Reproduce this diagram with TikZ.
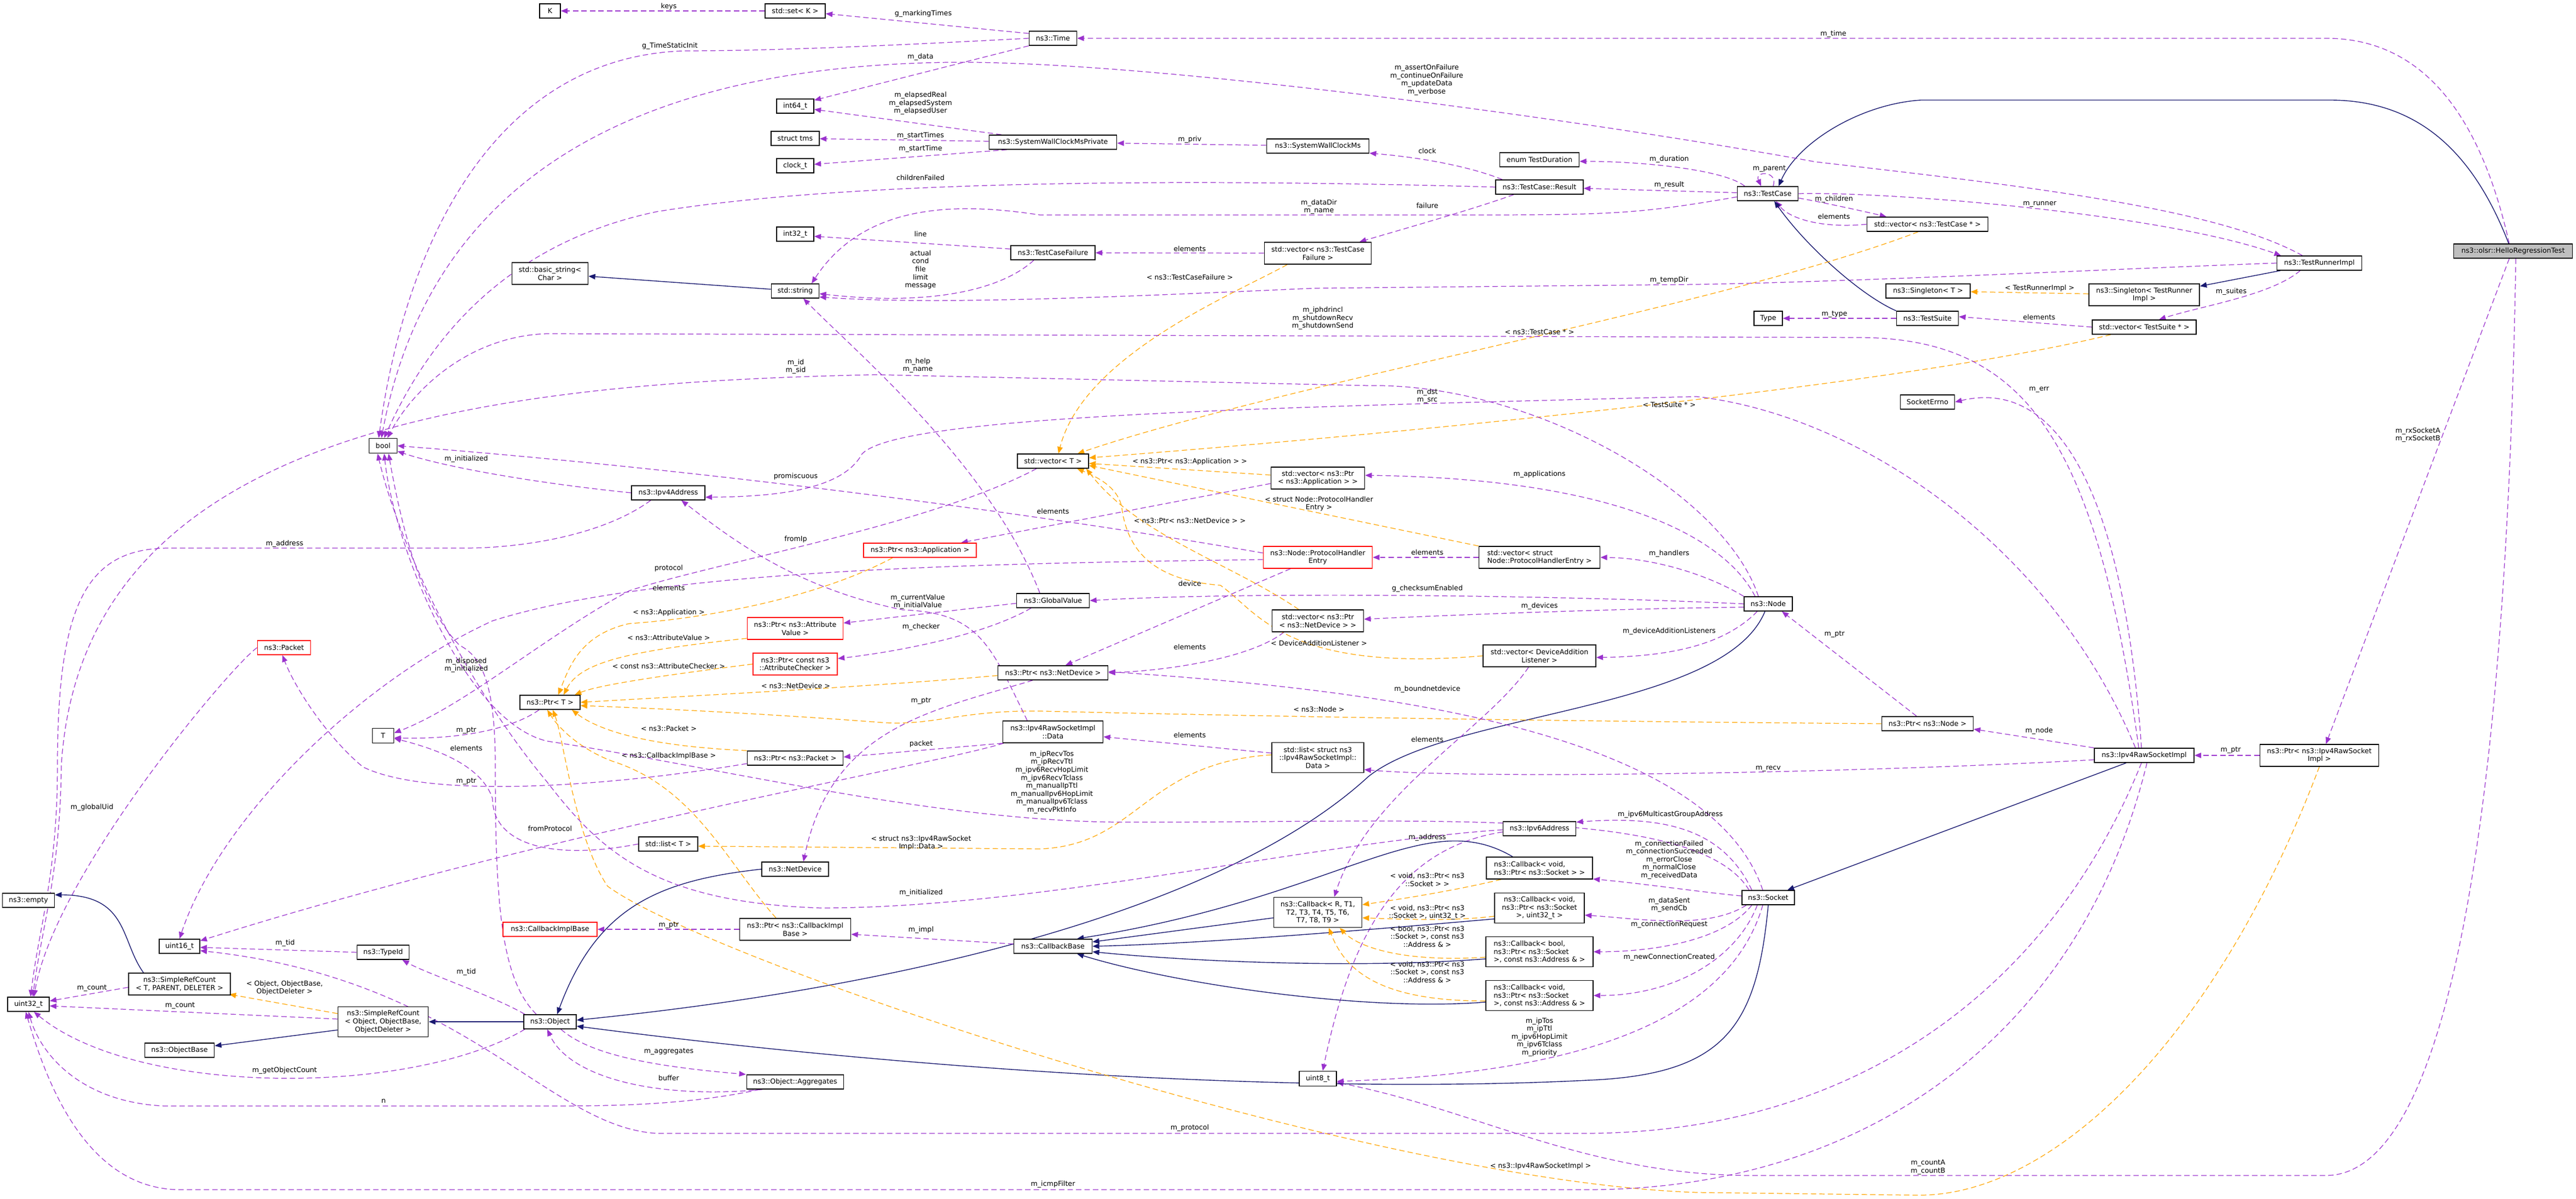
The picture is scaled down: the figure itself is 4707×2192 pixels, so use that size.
\documentclass[tikz,border=0pt]{standalone}
\usepackage{fontspec}
\setmainfont{DejaVu Sans}
\usetikzlibrary{arrows.meta,backgrounds}
\definecolor{usecol}{HTML}{9A32CD}
\definecolor{inhcol}{HTML}{191970}
\definecolor{tmplcol}{HTML}{FFA500}
\definecolor{rootgray}{HTML}{BFBFBF}
\tikzset{
  every node/.style={font=\fontsize{3.6}{4.15}\selectfont},
  cls/.style={draw=black, line width=0.45pt, fill=white, inner sep=1pt, minimum height=0.26cm, align=center},
  trunc/.style={cls, draw=red},
  bw/.style={minimum width=#1cm},
  h2/.style={minimum height=0.40cm},
  h3/.style={minimum height=0.55cm},
  lbl/.style={inner sep=0pt, align=center},
  mem/.style={draw=usecol, line width=0.35pt, dash pattern=on 2.8pt off 1.6pt, -{Triangle[length=3.5pt,width=2.8pt]}},
  tmpl/.style={draw=tmplcol, line width=0.35pt, dash pattern=on 2.8pt off 1.6pt, -{Triangle[length=3.5pt,width=2.8pt]}},
  inh/.style={draw=inhcol, line width=0.4pt, -{Triangle[length=3.5pt,width=2.8pt]}}
}
\begin{document}
\begin{tikzpicture}[x=0.01cm, y=-0.01cm]
\useasboundingbox (0,0) rectangle (4707,2192);

\node[cls, bw=0.38] (K) at (1005,20) {K};
\node[cls, bw=1.10] (setK) at (1453,20) {std::set< K >};
\node[cls, bw=0.87] (time) at (1924,70) {ns3::Time};
\node[cls, bw=0.68] (int64) at (1453,194) {int64\_t};
\node[cls, bw=0.88] (tms) at (1453,253) {struct tms};
\node[cls, bw=0.68] (clockt) at (1453,303) {clock\_t};
\node[cls, bw=2.33] (swcmp) at (1924,260) {ns3::SystemWallClockMsPrivate};
\node[cls, bw=1.87] (swcm) at (2408,267) {ns3::SystemWallClockMs};
\node[cls, bw=1.45] (duration) at (2813,292) {enum TestDuration};
\node[cls, bw=1.60] (result) at (2813,342) {ns3::TestCase::Result};
\node[cls, bw=1.11] (testcase) at (3230,354) {ns3::TestCase};
\node[cls, bw=2.21] (vecTC) at (3522,410) {std::vector< ns3::TestCase * >};
\node[cls, bw=0.68] (int32) at (1453,428) {int32\_t};
\node[cls, bw=1.54] (tcf) at (1924,462) {ns3::TestCaseFailure};
\node[cls, bw=1.95, h2] (vecTCF) at (2408,463) {std::vector< ns3::TestCase\\Failure >};
\node[cls, bw=1.39, h2] (basicstr) at (1005,500) {std::basic\_string<\\Char >};
\node[cls, bw=0.87] (string) at (1453,532) {std::string};
\node[cls, bw=1.54] (singT) at (3523,532) {ns3::Singleton< T >};
\node[cls, bw=1.55] (runner) at (4238,481) {ns3::TestRunnerImpl};
\node[cls, bw=2.02, h2] (singR) at (3918,539) {ns3::Singleton< TestRunner\\Impl >};
\node[cls, bw=2.17, fill=rootgray] (root) at (4592,459) {ns3::olsr::HelloRegressionTest};
\node[cls, bw=0.52] (type) at (3231,582) {Type};
\node[cls, bw=1.13] (suite) at (3522,582) {ns3::TestSuite};
\node[cls, bw=1.90] (vecTS) at (3918,598) {std::vector< TestSuite * >};
\node[cls, bw=0.99] (errno) at (3522,735) {SocketErrno};
\node[cls, bw=0.51, minimum height=0.27cm] (bool) at (700,815) {bool};
\node[cls, bw=1.34] (ipv4) at (1221,901) {ns3::Ipv4Address};
\node[cls, bw=1.30] (vecT) at (1924,843) {std::vector< T >};
\node[cls, bw=1.71, h2] (vecApp) at (2408,874) {std::vector< ns3::Ptr\\< ns3::Application > >};
\node[trunc, bw=2.06] (ptrApp) at (1681,1006) {ns3::Ptr< ns3::Application >};
\node[trunc, bw=1.99, h2] (phe) at (2408,1019) {ns3::Node::ProtocolHandler\\Entry};
\node[cls, bw=2.21, h2, align=left] (vecPHE) at (2813,1019) {std::vector< struct\\Node::ProtocolHandlerEntry >};
\node[cls, bw=1.33] (gv) at (1924,1098) {ns3::GlobalValue};
\node[cls, bw=1.67, h2] (vecND) at (2408,1135) {std::vector< ns3::Ptr\\< ns3::NetDevice > >};
\node[cls, bw=2.06, h2] (vecDAL) at (2813,1199) {std::vector< DeviceAddition\\Listener >};
\node[cls, bw=0.88] (nsnode) at (3231,1104) {ns3::Node};
\node[cls, bw=1.67] (ptrNode) at (3522,1323) {ns3::Ptr< ns3::Node >};
\node[trunc, bw=1.75, h2] (ptrAV) at (1453,1149) {ns3::Ptr< ns3::Attribute\\Value >};
\node[trunc, bw=1.54, h2] (ptrAC) at (1453,1214) {ns3::Ptr< const ns3\\::AttributeChecker >};
\node[trunc, bw=0.97] (packet) at (519,1184) {ns3::Packet};
\node[cls, bw=1.10] (ptrT) at (1005,1284) {ns3::Ptr< T >};
\node[cls, bw=0.39, minimum height=0.27cm] (T) at (700,1345) {T};
\node[cls, bw=2.01] (ptrND) at (1924,1230) {ns3::Ptr< ns3::NetDevice >};
\node[cls, bw=1.75] (ptrPkt) at (1453,1386) {ns3::Ptr< ns3::Packet >};
\node[cls, bw=1.83, h2] (data) at (1924,1338) {ns3::Ipv4RawSocketImpl\\::Data};
\node[cls, bw=1.68, h3] (listData) at (2408,1385) {std::list< struct ns3\\::Ipv4RawSocketImpl::\\Data >};
\node[cls, bw=1.82] (raw) at (3918,1381) {ns3::Ipv4RawSocketImpl};
\node[cls, bw=2.17, h2] (ptrRaw) at (4238,1381) {ns3::Ptr< ns3::Ipv4RawSocket\\Impl >};
\node[cls, bw=1.08] (listT) at (1221,1543) {std::list< T >};
\node[cls, bw=1.22] (netdev) at (1453,1589) {ns3::NetDevice};
\node[cls, bw=1.33] (ipv6) at (2813,1515) {ns3::Ipv6Address};
\node[cls, bw=1.94, h2, align=left] (cbSock) at (2813,1587) {ns3::Callback< void,\\ns3::Ptr< ns3::Socket > >};
\node[cls, bw=1.61, h3] (cbRT) at (2408,1668) {ns3::Callback< R, T1,\\T2, T3, T4, T5, T6,\\T7, T8, T9 >};
\node[cls, bw=1.64, h3] (cbU32) at (2813,1660) {ns3::Callback< void,\\ns3::Ptr< ns3::Socket\\>, uint32\_t >};
\node[cls, bw=1.96, h3, align=left] (cbBool) at (2813,1740) {ns3::Callback< bool,\\ns3::Ptr< ns3::Socket\\>, const ns3::Address \& >};
\node[cls, bw=1.96, h3, align=left] (cbAddr) at (2813,1820) {ns3::Callback< void,\\ns3::Ptr< ns3::Socket\\>, const ns3::Address \& >};
\node[cls, bw=0.96] (socket) at (3231,1641) {ns3::Socket};
\node[cls, bw=0.95] (empty) at (52,1646) {ns3::empty};
\node[cls, bw=0.76] (uint32) at (52,1836) {uint32\_t};
\node[cls, bw=0.74] (uint16) at (328,1730) {uint16\_t};
\node[cls, bw=1.86, h2] (src) at (328,1799) {ns3::SimpleRefCount\\< T, PARENT, DELETER >};
\node[cls, bw=1.27] (objbase) at (328,1920) {ns3::ObjectBase};
\node[cls, bw=0.95] (typeid) at (700,1741) {ns3::TypeId};
\node[cls, bw=1.65, h3] (srcObj) at (700,1868) {ns3::SimpleRefCount\\< Object, ObjectBase,\\ObjectDeleter >};
\node[cls, bw=0.96] (object) at (1005,1868) {ns3::Object};
\node[trunc, bw=1.72] (cbib) at (1005,1699) {ns3::CallbackImplBase};
\node[cls, bw=2.03, h2] (ptrCB) at (1453,1699) {ns3::Ptr< ns3::CallbackImpl\\Base >};
\node[cls, bw=1.77] (aggr) at (1453,1978) {ns3::Object::Aggregates};
\node[cls, bw=1.43] (cbbase) at (1924,1730) {ns3::CallbackBase};
\node[cls, bw=0.68, minimum height=0.27cm] (uint8) at (2408,1972) {uint8\_t};

\begin{scope}[on background layer]
\draw[mem] ([xshift=-0.07cm]root.north) .. controls (4530,200) and (4420,70) .. (4250,70) -- (time);
\draw[inh] ([xshift=-0.08cm]root.north) .. controls (4520,280) and (4420,183) .. (4257,183) -- (3510,183) .. controls (3400,190) and (3285,260) .. ([xshift=0.2cm]testcase.north);
\draw[mem] ([xshift=-0.07cm]root.south) -- ([xshift=0.12cm]ptrRaw.north);
\draw[mem] ([xshift=0.05cm]root.south) .. controls (4585,1200) and (4520,2149) .. (4250,2149) -- (3200,2149) .. controls (2900,2149) and (2700,2030) .. (uint8);
\draw[mem] ([yshift=-0.05cm]time.north west) -- ([yshift=-0.05cm]setK.east);
\draw[mem] (setK) -- (K);
\draw[mem] (time.west) .. controls (1600,85) and (1400,93) .. (1250,93) .. controls (900,105) and (740,450) .. ([xshift=-0.08cm]bool.north);
\draw[mem] (time.south west) -- ([yshift=-0.03cm]int64.north east);
\draw[mem] ([xshift=-0.31cm]runner.north) .. controls (4050,380) and (3700,340) .. (3318,296) .. controls (2900,220) and (2100,110) .. (1736,114) .. controls (1200,120) and (790,300) .. ([xshift=-0.03cm]bool.north);
\draw[mem] ([xshift=-0.94cm]swcmp.north) -- ([yshift=-0.06cm]int64.east);
\draw[mem] (swcmp) -- (tms);
\draw[mem] ([xshift=-0.84cm]swcmp.south) -- (clockt);
\draw[mem] (swcm) -- (swcmp);
\draw[mem] ([xshift=-0.68cm]result.north) .. controls (2700,310) and (2620,290) .. ([yshift=-0.13cm]swcm.east);
\draw[mem] (result.west) .. controls (2300,330) and (1600,322) .. (1200,387) .. controls (900,450) and (770,650) .. ([xshift=0.02cm]bool.north);
\draw[mem] ([xshift=-0.47cm]result.south) .. controls (2700,380) and (2560,420) .. ([xshift=0.76cm]vecTCF.north);
\draw[mem] ([xshift=-0.42cm]testcase.north) .. controls (3150,310) and (3000,295) .. ([yshift=-0.03cm]duration.east);
\draw[mem] (testcase) -- (result);
\draw[mem] ([xshift=0.1cm]testcase.north) .. controls (3250,312) and (3205,312) .. ([xshift=-0.12cm]testcase.north);
\draw[mem] ([yshift=-0.08cm]testcase.east) .. controls (3330,370) and (3400,385) .. ([xshift=-0.75cm]vecTC.north);
\draw[mem] (vecTC.west) .. controls (3330,418) and (3270,400) .. ([xshift=0.15cm]testcase.south);
\draw[mem] ([yshift=-0.06cm]testcase.west) .. controls (3000,390) and (2950,393) .. (2700,393) -- (1900,393) .. controls (1750,370) and (1580,370) .. ([xshift=0.3cm]string.north);
\draw[mem] (testcase.east) .. controls (3450,350) and (3950,390) .. ([xshift=-0.7cm]runner.north);
\draw[mem] (runner.west) .. controls (3900,490) and (3400,515) .. (3100,520) -- (2400,527) .. controls (2000,545) and (1700,557) .. ([yshift=-0.11cm]string.east);
\draw[mem] ([yshift=-0.07cm]tcf.north west) -- ([yshift=-0.04cm]int32.east);
\draw[mem] ([xshift=-0.35cm]tcf.south) .. controls (1830,530) and (1700,560) .. ([yshift=-0.05cm]string.east);
\draw[mem] (vecTCF) -- (tcf);
\draw[tmpl] ([xshift=-0.56cm]vecTCF.south) .. controls (2250,540) and (1980,650) .. ([xshift=0.1cm]vecT.north);
\draw[inh] (string) -- (basicstr);
\draw[inh] ([xshift=0.07cm]runner.south west) -- ([yshift=-0.05cm]singR.north east);
\draw[tmpl] (singR) -- (singT);
\draw[mem] ([xshift=-0.35cm]runner.south) .. controls (4150,540) and (4020,560) .. ([xshift=0.27cm]vecTS.north);
\draw[mem] (suite) -- (type);
\draw[mem] (vecTS.west) -- ([yshift=0.03cm]suite.east);
\draw[inh] (suite.north west) .. controls (3400,540) and (3300,450) .. ([xshift=0.12cm]testcase.south);
\draw[tmpl] ([xshift=-0.61cm]vecTS.south) .. controls (3500,700) and (2600,790) .. ([yshift=0.06cm]vecT.east);
\draw[tmpl] ([xshift=-0.17cm]vecTC.south) .. controls (3150,560) and (2350,700) .. ([xshift=0.45cm]vecT.north);
\draw[mem] ([xshift=-0.05cm]raw.north) .. controls (3880,900) and (3760,690) .. (errno.east);
\draw[mem] ([xshift=-0.1cm]raw.north) .. controls (3830,800) and (3700,620) .. (3400,617) -- (1000,610) .. controls (850,615) and (750,720) .. ([xshift=0.08cm]bool.north);
\draw[mem] ([xshift=-0.16cm]raw.north) .. controls (3750,1000) and (3400,760) .. (3100,725) .. controls (2300,745) and (1640,760) .. (1575,830) .. controls (1540,895) and (1420,908) .. ([yshift=-0.08cm]ipv4.east);
\draw[mem] ([xshift=-0.18cm]nsnode.north) .. controls (3150,900) and (2800,700) .. (2500,705) -- (1600,685) .. controls (900,700) and (150,780) .. (112,1400) .. controls (110,1600) and (75,1700) .. ([xshift=0.08cm]uint32.north);
\draw[mem] ([xshift=-0.24cm]nsnode.north) .. controls (3150,980) and (2950,875) .. ([yshift=0.05cm]vecApp.east);
\draw[mem] (nsnode.north west) .. controls (3120,1050) and (3020,1020) .. (vecPHE.east);
\draw[mem] (nsnode.west) .. controls (2900,1090) and (2300,1080) .. (gv.east);
\draw[mem] ([yshift=-0.06cm]nsnode.west) .. controls (3000,1112) and (2700,1122) .. ([yshift=0.03cm]vecND.east);
\draw[mem] ([xshift=-0.2cm]nsnode.south) .. controls (3150,1180) and (3050,1200) .. ([yshift=-0.03cm]vecDAL.east);
\draw[inh] ([xshift=-0.06cm]nsnode.south) .. controls (3150,1300) and (2650,1300) .. (2500,1420) .. controls (2250,1650) and (1700,1800) .. ([yshift=0.03cm]object.east);
\draw[inh] (socket.south) .. controls (3210,1880) and (3150,1965) .. (2900,1975) .. controls (2400,2000) and (1700,1960) .. ([yshift=-0.08cm]object.east);
\draw[inh] ([xshift=-0.33cm]raw.south) -- ([xshift=0.35cm]socket.north);
\draw[mem] (raw.north west) -- ([yshift=-0.1cm]ptrNode.east);
\draw[mem] (ptrRaw) -- (raw);
\draw[mem] ([xshift=-0.2cm]ptrNode.north) -- ([xshift=0.25cm]nsnode.south);
\draw[tmpl] (ptrNode.west) .. controls (3000,1320) and (2400,1312) .. (1900,1300) .. controls (1750,1298) and (1700,1330) .. (1600,1320) .. controls (1400,1305) and (1200,1295) .. ([yshift=-0.06cm]ptrT.east);
\draw[tmpl] (ptrRaw.south) .. controls (4050,1900) and (3750,2190) .. (3500,2185) -- (3100,2180) .. controls (2500,2160) and (1300,1760) .. (1110,1620) .. controls (1050,1530) and (1030,1350) .. ([xshift=0.05cm]ptrT.south);
\draw[mem] ([yshift=-0.08cm]raw.west) .. controls (3400,1413) and (2700,1425) .. ([yshift=-0.22cm]listData.east);
\draw[mem] (listData) -- (data);
\draw[tmpl] ([yshift=0.05cm]listData.west) .. controls (2090,1395) and (2080,1545) .. (1900,1552) -- ([yshift=-0.04cm]listT.east);
\draw[mem] (data.south west) -- ([yshift=0.02cm]ptrPkt.east);
\draw[mem] ([xshift=-0.47cm]data.north) .. controls (1810,1180) and (1790,1120) .. (1650,1115) .. controls (1450,1075) and (1330,980) .. ([xshift=0.24cm]ipv4.south);
\draw[mem] ([xshift=-0.9cm]data.south) .. controls (1700,1400) and (1000,1520) .. ([yshift=0.1cm]uint16.east);
\draw[mem] ([xshift=-0.24cm]gv.north) .. controls (1810,850) and (1560,640) .. ([xshift=0.15cm]string.south);
\draw[mem] ([yshift=-0.05cm]gv.west) -- ([yshift=0.1cm]ptrAV.east);
\draw[mem] ([xshift=-0.4cm]gv.south) .. controls (1800,1160) and (1650,1190) .. ([yshift=0.1cm]ptrAC.east);
\draw[mem] ([yshift=-0.1cm]vecApp.west) -- ([xshift=0.75cm]ptrApp.north);
\draw[tmpl] (vecApp) -- (vecT);
\draw[mem] ([xshift=-0.5cm]phe.south) -- ([xshift=0.23cm]ptrND.north);
\draw[mem] (vecPHE) -- (phe);
\draw[tmpl] (vecPHE.north west) -- ([yshift=-0.08cm]vecT.east);
\draw[mem] ([yshift=0.08cm]phe.west) .. controls (1900,940) and (1300,860) .. (bool.east);
\draw[mem] ([yshift=-0.04cm]phe.west) .. controls (1800,1030) and (1200,1040) .. (900,1135) .. controls (650,1250) and (400,1500) .. (uint16.north);
\draw[tmpl] ([xshift=-0.35cm]vecND.north) .. controls (2250,1030) and (2080,980) .. ([xshift=-0.05cm]vecT.south east);
\draw[mem] ([xshift=-0.62cm]vecND.south) .. controls (2290,1200) and (2150,1225) .. (ptrND.east);
\draw[tmpl] (vecDAL.west) .. controls (2350,1230) and (2300,1120) .. (2230,1070) .. controls (2100,1060) and (2060,1000) .. (2050,930) .. controls (2045,890) and (2000,870) .. ([xshift=0.44cm]vecT.south);
\draw[mem] ([xshift=-0.2cm]vecDAL.south) .. controls (2720,1330) and (2500,1450) .. ([xshift=0.3cm]cbRT.north);
\draw[mem] ([xshift=-0.32cm]ipv4.south) .. controls (1100,980) and (950,1002) .. (850,1002) -- (310,1002) .. controls (160,1002) and (105,1100) .. (105,1400) .. controls (105,1600) and (70,1700) .. ([xshift=0.04cm]uint32.north);
\draw[mem] (ipv4.west) .. controls (950,880) and (800,850) .. ([yshift=-0.1cm]bool.east);
\draw[tmpl] ([xshift=-0.5cm]ptrApp.south) .. controls (1500,1090) and (1300,1130) .. (1150,1140) .. controls (1060,1160) and (1040,1220) .. ([xshift=0.15cm]ptrT.north);
\draw[tmpl] ([yshift=-0.18cm]ptrAV.west) .. controls (1150,1190) and (1060,1210) .. ([xshift=0.25cm]ptrT.north);
\draw[tmpl] (ptrAC.west) .. controls (1250,1230) and (1100,1250) .. ([xshift=0.45cm]ptrT.north);
\draw[tmpl] ([yshift=-0.05cm]ptrND.west) .. controls (1600,1255) and (1300,1270) .. (ptrT.east);
\draw[tmpl] (ptrPkt.north west) .. controls (1200,1365) and (1100,1340) .. ([xshift=0.4cm]ptrT.south);
\draw[tmpl] ([xshift=-0.35cm]ptrCB.north) .. controls (1330,1580) and (1270,1440) .. (1120,1392) .. controls (1060,1370) and (1020,1330) .. ([xshift=-0.05cm]ptrT.south);
\draw[mem] ([xshift=-0.2cm]ptrT.south) .. controls (940,1330) and (850,1352) .. ([yshift=-0.04cm]T.east);
\draw[mem] ([xshift=-0.3cm]vecT.south) .. controls (1700,960) and (1300,1030) .. (1150,1080) .. controls (1000,1160) and (850,1290) .. ([yshift=0.05cm]T.east);
\draw[mem] (listT.west) .. controls (1000,1575) and (900,1540) .. (900,1460) .. controls (880,1400) and (800,1370) .. ([yshift=-0.05cm]T.east);
\draw[mem] ([yshift=-0.1cm]ptrPkt.west) .. controls (1100,1440) and (780,1460) .. (663,1402) .. controls (600,1350) and (540,1260) .. ([xshift=-0.03cm]packet.south);
\draw[mem] (packet.west) .. controls (420,1220) and (100,1600) .. ([xshift=0.1cm]uint32.north);
\draw[mem] (typeid.west) -- ([yshift=-0.02cm]uint16.east);
\draw[mem] ([xshift=-0.46cm]object.north) .. controls (900,1820) and (780,1780) .. ([xshift=0.35cm]typeid.south);
\draw[mem] ([yshift=0.05cm]srcObj.west) -- ([yshift=-0.03cm]uint32.east);
\draw[mem] ([yshift=-0.06cm]src.west) -- ([yshift=0.06cm]uint32.east);
\draw[mem] ([xshift=-0.46cm]object.south) .. controls (750,2005) and (250,2005) .. ([xshift=0.1cm]uint32.south);
\draw[mem] ([xshift=-0.65cm]aggr.south) .. controls (1250,2022) and (1100,2022) .. (1000,2022) -- (300,2022) .. controls (150,2015) and (75,1930) .. (uint32.south);
\draw[mem] ([xshift=0.2cm]object.south) .. controls (1080,1930) and (1200,1950) .. ([xshift=-0.9cm]aggr.north);
\draw[mem] ([xshift=-0.6cm]aggr.south) .. controls (1200,2010) and (1040,1970) .. ([xshift=-0.05cm]object.south);
\draw[mem] (ptrCB) -- (cbib);
\draw[mem] (cbbase) -- ([yshift=-0.09cm]ptrCB.east);
\draw[mem] ([xshift=-0.37cm]ptrND.south) .. controls (1700,1300) and (1520,1330) .. ([xshift=0.15cm]netdev.north);
\draw[inh] (netdev.west) .. controls (1200,1610) and (1090,1660) .. ([xshift=0.13cm]object.north);
\draw[mem] ([xshift=-0.25cm]object.north) .. controls (915,1790) and (905,1650) .. (905,1400) .. controls (905,1250) and (880,1200) .. (840,1180) .. controls (780,1120) and (740,1000) .. ([xshift=0.1cm]bool.south);
\draw[mem] ([yshift=-0.02cm]ipv6.west) .. controls (2400,1540) and (1900,1660) .. (1500,1660) .. controls (1200,1650) and (1100,1560) .. (1000,1430) .. controls (850,1250) and (730,1000) .. ([xshift=-0.1cm]bool.south);
\draw[mem] ([xshift=-0.35cm]socket.north) .. controls (3100,1470) and (2600,1505) .. (2040,1503) .. controls (1700,1500) and (1300,1400) .. (1000,1355) .. controls (850,1320) and (720,1000) .. ([xshift=0.02cm]bool.south);
\draw[mem] ([xshift=-0.3cm]socket.north) .. controls (3150,1520) and (3050,1490) .. ([yshift=0.12cm]ipv6.east);
\draw[mem] ([yshift=-0.06cm]ipv6.west) .. controls (2560,1550) and (2470,1700) .. ([xshift=0.09cm]uint8.north);
\draw[mem] ([yshift=0.03cm]socket.west) .. controls (3100,1630) and (3000,1615) .. ([yshift=-0.2cm]cbSock.east);
\draw[mem] ([xshift=-0.4cm]socket.south) .. controls (3120,1700) and (3000,1680) .. ([yshift=-0.13cm]cbU32.east);
\draw[mem] ([xshift=-0.3cm]socket.south) .. controls (3150,1720) and (3020,1740) .. (cbBool.east);
\draw[mem] ([xshift=-0.2cm]socket.south) .. controls (3170,1760) and (3050,1820) .. (cbAddr.east);
\draw[mem] ([xshift=-0.1cm]socket.south) .. controls (3150,1900) and (2800,1965) .. ([yshift=-0.05cm]uint8.east);
\draw[mem] ([xshift=-0.1cm]socket.north) .. controls (3120,1330) and (2500,1260) .. ([yshift=0.02cm]ptrND.east);
\draw[mem] ([xshift=-0.05cm]raw.south) .. controls (3750,1800) and (3400,2070) .. (2900,2072) -- (1200,2072) .. controls (1000,2060) and (850,1790) .. ([yshift=-0.08cm]uint16.east);
\draw[mem] ([xshift=0.05cm]raw.south) .. controls (3800,1900) and (3400,2175) .. (2900,2175) -- (330,2175) .. controls (150,2175) and (80,1960) .. ([xshift=-0.05cm]uint32.south);
\draw[inh] ([yshift=-0.1cm]cbRT.west) -- ([yshift=0.08cm]cbbase.east);
\draw[inh] ([xshift=-0.49cm]cbSock.north) .. controls (2600,1470) and (2450,1640) .. ([xshift=0.44cm]cbbase.north);
\draw[inh] ([yshift=-0.2cm]cbU32.west) .. controls (2500,1700) and (2200,1725) .. (cbbase.east);
\draw[inh] ([yshift=-0.13cm]cbBool.west) .. controls (2500,1770) and (2200,1760) .. ([yshift=-0.1cm]cbbase.east);
\draw[inh] ([yshift=-0.12cm]cbAddr.west) .. controls (2500,1850) and (2150,1800) .. ([xshift=0.44cm]cbbase.south);
\draw[tmpl] ([xshift=-0.7cm]cbSock.south) .. controls (2650,1630) and (2550,1645) .. ([yshift=0.14cm]cbRT.east);
\draw[tmpl] ([yshift=-0.15cm]cbU32.west) .. controls (2650,1685) and (2550,1680) .. ([yshift=-0.1cm]cbRT.east);
\draw[tmpl] ([yshift=-0.1cm]cbBool.west) .. controls (2560,1760) and (2480,1730) .. ([xshift=0.4cm]cbRT.south);
\draw[tmpl] ([yshift=-0.1cm]cbAddr.west) .. controls (2530,1830) and (2460,1780) .. ([xshift=0.2cm]cbRT.south);
\draw[inh] (object) -- (srcObj);
\draw[inh] ([yshift=-0.15cm]srcObj.west) -- ([yshift=0.08cm]objbase.east);
\draw[tmpl] ([yshift=0.15cm]srcObj.west) -- ([xshift=-0.03cm,yshift=0.02cm]src.south east);
\draw[inh] ([xshift=0.28cm]src.north west) .. controls (220,1720) and (235,1636) .. ([yshift=0.1cm]empty.east);
\end{scope}

\node[lbl] (l1) at (3350,62) {m\_time};
\node[lbl] (l2) at (4418,795) {m\_rxSocketA\\m\_rxSocketB};
\node[lbl] (l3) at (3523,2134) {m\_countA\\m\_countB};
\node[lbl] (l4) at (1687,25) {g\_markingTimes};
\node[lbl] (l5) at (1222,12) {keys};
\node[lbl] (l6) at (1224,84) {g\_TimeStaticInit};
\node[lbl] (l7) at (1682,104) {m\_data};
\node[lbl] (l8) at (2607,146) {m\_assertOnFailure\\m\_continueOnFailure\\m\_updateData\\m\_verbose};
\node[lbl] (l9) at (1682,189) {m\_elapsedReal\\m\_elapsedSystem\\m\_elapsedUser};
\node[lbl] (l10) at (1682,248) {m\_startTimes};
\node[lbl] (l11) at (1682,272) {m\_startTime};
\node[lbl] (l12) at (2174,255) {m\_priv};
\node[lbl] (l13) at (2608,276) {clock};
\node[lbl] (l14) at (1682,325) {childrenFailed};
\node[lbl] (l15) at (2608,376) {failure};
\node[lbl] (l16) at (3050,291) {m\_duration};
\node[lbl] (l17) at (3050,338) {m\_result};
\node[lbl] (l18) at (3233,309) {m\_parent};
\node[lbl] (l19) at (3351,364) {m\_children};
\node[lbl] (l20) at (3351,396) {elements};
\node[lbl] (l21) at (2410,378) {m\_dataDir\\m\_name};
\node[lbl] (l22) at (3727,373) {m\_runner};
\node[lbl] (l23) at (3050,512) {m\_tempDir};
\node[lbl] (l24) at (1682,428) {line};
\node[lbl] (l25) at (1682,493) {actual\\cond\\file\\limit\\message};
\node[lbl] (l26) at (2174,455) {elements};
\node[lbl] (l27) at (2174,507) {< ns3::TestCaseFailure >};
\node[lbl] (l28) at (3727,527) {< TestRunnerImpl >};
\node[lbl] (l29) at (4077,533) {m\_suites};
\node[lbl] (l30) at (3352,575) {m\_type};
\node[lbl] (l31) at (3726,580) {elements};
\node[lbl] (l32) at (3050,740) {< TestSuite * >};
\node[lbl] (l33) at (2813,607) {< ns3::TestCase * >};
\node[lbl] (l34) at (3726,712) {m\_err};
\node[lbl] (l35) at (2417,582) {m\_iphdrincl\\m\_shutdownRecv\\m\_shutdownSend};
\node[lbl] (l36) at (2608,724) {m\_dst\\m\_src};
\node[lbl] (l37) at (1454,670) {m\_id\\m\_sid};
\node[lbl] (l38) at (1677,668) {m\_help\\m\_name};
\node[lbl] (l39) at (2813,867) {m\_applications};
\node[lbl] (l40) at (3050,1012) {m\_handlers};
\node[lbl] (l41) at (2608,1076) {g\_checksumEnabled};
\node[lbl] (l42) at (2813,1108) {m\_devices};
\node[lbl] (l43) at (3050,1154) {m\_deviceAdditionListeners};
\node[lbl] (l44) at (2174,844) {< ns3::Ptr< ns3::Application > >};
\node[lbl] (l45) at (1924,935) {elements};
\node[lbl] (l46) at (2410,921) {< struct Node::ProtocolHandler\\Entry >};
\node[lbl] (l47) at (2608,1010) {elements};
\node[lbl] (l48) at (2174,952) {< ns3::Ptr< ns3::NetDevice > >};
\node[lbl] (l49) at (2174,1067) {device};
\node[lbl] (l50) at (2174,1183) {elements};
\node[lbl] (l51) at (2410,1176) {< DeviceAdditionListener >};
\node[lbl] (l52) at (2608,1260) {m\_boundnetdevice};
\node[lbl] (l53) at (2410,1297) {< ns3::Node >};
\node[lbl] (l54) at (2608,1352) {elements};
\node[lbl] (l55) at (2174,1344) {elements};
\node[lbl] (l56) at (3352,1160) {m\_ptr};
\node[lbl] (l57) at (3726,1336) {m\_node};
\node[lbl] (l58) at (4076,1372) {m\_ptr};
\node[lbl] (l59) at (3231,1405) {m\_recv};
\node[lbl] (l60) at (1454,871) {promiscuous};
\node[lbl] (l61) at (852,839) {m\_initialized};
\node[lbl] (l62) at (520,994) {m\_address};
\node[lbl] (l63) at (1454,986) {fromIp};
\node[lbl] (l64) at (1222,1039) {protocol};
\node[lbl] (l65) at (1222,1075) {elements};
\node[lbl] (l66) at (1222,1120) {< ns3::Application >};
\node[lbl] (l67) at (1222,1166) {< ns3::AttributeValue >};
\node[lbl] (l68) at (1222,1218) {< const ns3::AttributeChecker >};
\node[lbl] (l69) at (1454,1254) {< ns3::NetDevice >};
\node[lbl] (l70) at (1677,1100) {m\_currentValue\\m\_initialValue};
\node[lbl] (l71) at (1683,1146) {m\_checker};
\node[lbl] (l72) at (1683,1282) {m\_ptr};
\node[lbl] (l73) at (852,1216) {m\_disposed\\m\_initialized};
\node[lbl] (l74) at (852,1336) {m\_ptr};
\node[lbl] (l75) at (852,1368) {elements};
\node[lbl] (l76) at (1222,1332) {< ns3::Packet >};
\node[lbl] (l77) at (1222,1382) {< ns3::CallbackImplBase >};
\node[lbl] (l78) at (852,1429) {m\_ptr};
\node[lbl] (l79) at (1683,1360) {packet};
\node[lbl] (l80) at (1922,1430) {m\_ipRecvTos\\m\_ipRecvTtl\\m\_ipv6RecvHopLimit\\m\_ipv6RecvTclass\\m\_manualIpTtl\\m\_manualIpv6HopLimit\\m\_manualIpv6Tclass\\m\_recvPktInfo};
\node[lbl] (l81) at (1683,1541) {< struct ns3::Ipv4RawSocket\\Impl::Data >};
\node[lbl] (l82) at (168,1476) {m\_globalUid};
\node[lbl] (l83) at (1005,1515) {fromProtocol};
\node[lbl] (l84) at (1683,1632) {m\_initialized};
\node[lbl] (l85) at (2608,1531) {m\_address};
\node[lbl] (l86) at (3052,1489) {m\_ipv6MulticastGroupAddress};
\node[lbl] (l87) at (3050,1572) {m\_connectionFailed\\m\_connectionSucceeded\\m\_errorClose\\m\_normalClose\\m\_receivedData};
\node[lbl] (l88) at (3050,1654) {m\_dataSent\\m\_sendCb};
\node[lbl] (l89) at (3050,1690) {m\_connectionRequest};
\node[lbl] (l90) at (3050,1750) {m\_newConnectionCreated};
\node[lbl] (l91) at (2608,1608) {< void, ns3::Ptr< ns3\\::Socket > >};
\node[lbl] (l92) at (2608,1668) {< void, ns3::Ptr< ns3\\::Socket >, uint32\_t >};
\node[lbl] (l93) at (2608,1712) {< bool, ns3::Ptr< ns3\\::Socket >, const ns3\\::Address \& >};
\node[lbl] (l94) at (2608,1777) {< void, ns3::Ptr< ns3\\::Socket >, const ns3\\::Address \& >};
\node[lbl] (l95) at (2813,1896) {m\_ipTos\\m\_ipTtl\\m\_ipv6HopLimit\\m\_ipv6Tclass\\m\_priority};
\node[lbl] (l96) at (1683,1700) {m\_impl};
\node[lbl] (l97) at (1222,1692) {m\_ptr};
\node[lbl] (l98) at (521,1724) {m\_tid};
\node[lbl] (l99) at (852,1777) {m\_tid};
\node[lbl] (l100) at (168,1807) {m\_count};
\node[lbl] (l101) at (329,1839) {m\_count};
\node[lbl] (l102) at (520,1806) {< Object, ObjectBase,\\ObjectDeleter >};
\node[lbl] (l103) at (520,1957) {m\_getObjectCount};
\node[lbl] (l104) at (1222,1923) {m\_aggregates};
\node[lbl] (l105) at (1222,1971) {buffer};
\node[lbl] (l106) at (701,2013) {n};
\node[lbl] (l107) at (2174,2062) {m\_protocol};
\node[lbl] (l108) at (1924,2165) {m\_icmpFilter};
\node[lbl] (l109) at (2815,2132) {< ns3::Ipv4RawSocketImpl >};
\end{tikzpicture}
\end{document}
